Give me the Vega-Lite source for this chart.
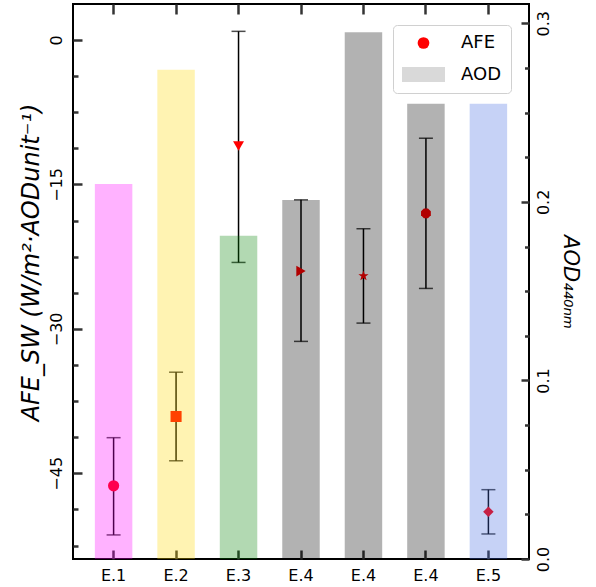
{
  "$schema": "https://vega.github.io/schema/vega-lite/v6.json",
  "autosize": {"type": "none"},
  "width": 456,
  "height": 555,
  "padding": {"left": 73, "top": 4, "right": 67, "bottom": 28},
  "config": {
    "font": "DejaVu Sans",
    "view": {"stroke": "black", "strokeWidth": 2},
    "axis": {
      "domain": false, "grid": false,
      "labelColor": "black", "labelFontSize": 16, "labelFont": "DejaVu Sans",
      "titleFont": "DejaVu Sans", "titleFontSize": 21, "titleFontStyle": "italic",
      "titleFontWeight": "normal", "titleColor": "black"
    }
  },
  "data": {
    "values": [
      {"id": "E.1", "aod": 0.210, "afe": -46.3, "lo": -51.4, "hi": -41.3},
      {"id": "E.2", "aod": 0.274, "afe": -39.1, "lo": -43.7, "hi": -34.5},
      {"id": "E.3", "aod": 0.181, "afe": -11.0, "lo": -23.1, "hi": 0.9},
      {"id": "E.4a", "aod": 0.201, "afe": -24.0, "lo": -31.3, "hi": -16.6},
      {"id": "E.4b", "aod": 0.295, "afe": -24.5, "lo": -29.4, "hi": -19.6},
      {"id": "E.4c", "aod": 0.255, "afe": -18.0, "lo": -25.8, "hi": -10.2},
      {"id": "E.5", "aod": 0.255, "afe": -49.0, "lo": -51.3, "hi": -46.7}
    ]
  },
  "layer": [
    {
      "layer": [
        {
          "mark": {"type": "rule", "color": "black", "strokeWidth": 1.5},
          "encoding": {
            "x": {"field": "id", "type": "nominal", "sort": null,
              "scale": {"paddingInner": 0.4, "paddingOuter": 0.35},
              "axis": {"orient": "bottom", "labelExpr": "substring(datum.label, 0, 3)", "labelAngle": 0, "ticks": true, "tickColor": "#333333", "tickWidth": 2.5, "offset": -9, "tickSize": 9, "labelPadding": 8, "title": null}},
            "y": {"field": "lo", "type": "quantitative",
              "scale": {"domain": [-53.9, 3.74], "nice": false, "zero": false},
              "axis": {"orient": "left", "values": [-45, -30, -15, 0], "labelAngle": -90, "ticks": true, "tickColor": "#333333", "tickWidth": 2.5, "offset": -9, "tickSize": 9, "labelPadding": 9,
                "title": "AFE_SW (W/m²·AODunit⁻¹)", "titleFontSize": 24, "titlePadding": 5, "titleY": 258}},
            "y2": {"field": "hi"}
          }
        },
        {
          "mark": {"type": "tick", "color": "black", "size": 14, "thickness": 1.5},
          "encoding": {
            "x": {"field": "id", "type": "nominal", "sort": null},
            "y": {"field": "lo", "type": "quantitative",
              "axis": {"orient": "left", "values": [-52.5, -48.75, -41.25, -37.5, -33.75, -26.25, -22.5, -18.75, -11.25, -7.5, -3.75], "labels": false, "ticks": true, "tickColor": "#333333", "tickWidth": 2.5, "offset": -5, "tickSize": 5, "title": null}}
          }
        },
        {
          "mark": {"type": "tick", "color": "black", "size": 14, "thickness": 1.5},
          "encoding": {
            "x": {"field": "id", "type": "nominal", "sort": null},
            "y": {"field": "hi", "type": "quantitative", "axis": null}
          }
        },
        {
          "mark": {"type": "point", "filled": true, "color": "red", "opacity": 1},
          "encoding": {
            "x": {"field": "id", "type": "nominal", "sort": null},
            "y": {"field": "afe", "type": "quantitative", "axis": null},
            "shape": {"field": "id", "type": "nominal", "legend": null,
              "scale": {"domain": ["E.1", "E.2", "E.3", "E.4a", "E.4b", "E.4c", "E.5"],
                "range": ["circle", "square", "triangle-down", "triangle-right",
                  "M0,-1L0.235,-0.324L0.951,-0.309L0.38,0.124L0.588,0.809L0,0.4L-0.588,0.809L-0.38,0.124L-0.951,-0.309L-0.235,-0.324Z",
                  "M0.383,-0.924L0.924,-0.383L0.924,0.383L0.383,0.924L-0.383,0.924L-0.924,0.383L-0.924,-0.383L-0.383,-0.924Z",
                  "diamond"]}},
            "size": {"field": "id", "type": "nominal", "legend": null,
              "scale": {"domain": ["E.1", "E.2", "E.3", "E.4a", "E.4b", "E.4c", "E.5"],
                "range": [125, 110, 160, 160, 150, 120, 230]}}
          }
        }
      ],
      "resolve": {"axis": {"y": "independent"}}
    },
    {
      "layer": [
        {
          "mark": {"type": "bar", "opacity": 0.3},
          "encoding": {
            "x": {"field": "id", "type": "nominal", "sort": null,
              "axis": {"orient": "top", "labels": false, "ticks": true, "tickColor": "#333333", "tickWidth": 2.5, "offset": -10, "tickSize": 10, "title": null}},
            "y": {"field": "aod", "type": "quantitative",
              "scale": {"domain": [0, 0.3108], "nice": false},
              "axis": {"orient": "right", "values": [0, 0.1, 0.2, 0.3], "format": ".1f", "labelAngle": -90, "ticks": true, "tickColor": "#333333", "tickWidth": 2.5, "offset": -8, "tickSize": 8, "labelPadding": 6,
                "title": "AOD₄₄₀ₙₘ", "titlePadding": 8}},
            "fill": {"field": "id", "type": "nominal", "legend": null,
              "scale": {"domain": ["E.1", "E.2", "E.3", "E.4a", "E.4b", "E.4c", "E.5"],
                "range": ["#ff00ff", "#ffd700", "#008000", "#000000", "#000000", "#000000", "#4169e1"]}}
          }
        },
        {
          "mark": {"type": "bar", "opacity": 0},
          "encoding": {
            "x": {"field": "id", "type": "nominal", "sort": null},
            "y": {"field": "aod", "type": "quantitative",
              "axis": {"orient": "right", "values": [0.025, 0.05, 0.075, 0.125, 0.15, 0.175, 0.225, 0.25, 0.275], "labels": false, "ticks": true, "tickColor": "#333333", "tickWidth": 2.5, "offset": -4.5, "tickSize": 4.5, "title": null}}
          }
        },
        {
          "data": {"values": [{"leg": "AFE"}, {"leg": "AOD"}]},
          "mark": {"type": "point", "filled": true, "opacity": 0},
          "encoding": {
            "color": {"field": "leg", "type": "nominal",
              "scale": {"domain": ["AFE", "AOD"], "range": ["#ff0000", "#d9d9d9"]},
              "legend": {"orient": "none", "legendX": 320, "legendY": 21, "title": null, "padding": 9,
                "fillColor": "white", "strokeColor": "#d0d0d0", "cornerRadius": 4,
                "labelFontSize": 18, "labelFont": "DejaVu Sans", "labelColor": "black", "labelOffset": 16,
                "rowPadding": 1, "symbolStrokeWidth": 0,
                "encode": {"symbols": {"update": {"opacity": {"value": 1}, "fillOpacity": {"value": 1}}}}}},
            "shape": {"field": "leg", "type": "nominal",
              "scale": {"domain": ["AFE", "AOD"], "range": ["circle", "M-1,-0.35H1V0.35H-1Z"]}},
            "size": {"field": "leg", "type": "nominal",
              "scale": {"domain": ["AFE", "AOD"], "range": [137, 1849]}}
          }
        }
      ],
      "resolve": {"axis": {"y": "independent"}}
    }
  ],
  "resolve": {
    "scale": {"y": "independent", "shape": "independent", "size": "independent", "color": "independent"},
    "axis": {"x": "independent", "y": "independent"}
  }
}
